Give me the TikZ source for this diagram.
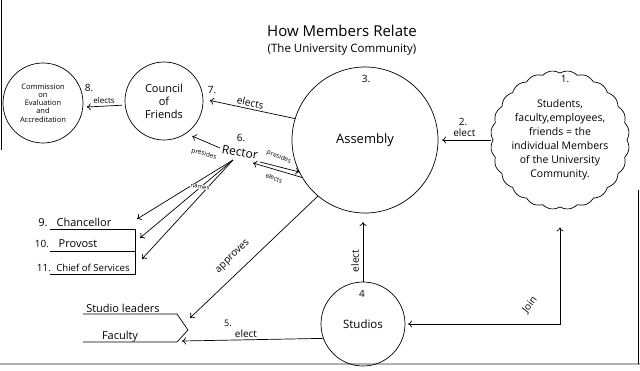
\documentclass[tikz,border=0pt]{standalone}
\usepackage{fontspec}
\setmainfont{Open Sans}
\usetikzlibrary{arrows.meta,calc}
\begin{document}
\begin{tikzpicture}[x=1pt,y=-1pt, line width=0.7pt,
  arr/.style={-{To[length=4pt,width=7pt]}},
  ring/.style={circle,draw,inner sep=0pt,outer sep=0pt,align=center},
  lbl/.style={inner sep=0pt,font=\fontsize{10}{12}\selectfont},
  small/.style={inner sep=0pt,font=\fontsize{6.5}{7}\selectfont},
  item/.style={inner sep=0pt,anchor=base,font=\fontsize{11}{12}\selectfont}]
\useasboundingbox (0,0) rectangle (640,370);
% page edges
\draw[line width=1pt] (1,0) -- (1,150);
\draw[gray!60,line width=1.6pt] (0,364) -- (640,364);
\draw[line width=0.6pt] (638,190) -- (638,364);
% title
\node[inner sep=0pt,font=\fontsize{15}{16}\selectfont] (title) at (342,31) {How Members Relate};
\node[inner sep=0pt,font=\fontsize{11.5}{13}\selectfont] (subtitle) at (342,50) {(The University Community)};
% circles
\node[ring,minimum size=80pt,font=\fontsize{7.5}{8.2}\selectfont] (com) at (43,103)
  {Commission\\on\\Evaluation\\and\\Accreditation};
\node[ring,minimum size=78pt,font=\fontsize{11}{13}\selectfont] (cof) at (164,101) {Council\\of\\Friends};
\node[ring,minimum size=146pt,font=\fontsize{13}{15}\selectfont] (asm) at (365,140) {\raisebox{-6pt}{Assembly}};
\node[ring,minimum size=84pt,font=\fontsize{11.5}{13}\selectfont] (stud) at (363,324) {\raisebox{-4pt}{Studios}};
\node[circle,inner sep=0pt,minimum size=138pt,align=center,font=\fontsize{10.5}{14}\selectfont] (stu) at (560,140)
  {\\[-6pt]Students,\\faculty,employees,\\friends = the\\individual Members\\of the University\\Community.};
\draw[shift={(stu.center)}] plot[domain=0:360,samples=361,smooth] (\x:{67+2.4*abs(sin(12*\x))}) -- cycle;
% numbers
\node[lbl] (n3) at (366,79) {3.};
\node[lbl] (n1) at (565,79) {1.};
\node[lbl] (n4) at (362,294) {4};
\node[lbl] (n2) at (463,122) {2.};
\node[lbl] (n7) at (212,90) {7.};
\node[lbl] (n8) at (89,88) {8.};
\node[lbl] (n6) at (241,138) {6.};
\node[lbl,font=\fontsize{9}{10}\selectfont] (n5) at (228,323) {5.};
% rector
\node[inner sep=1pt,rotate=-10,font=\fontsize{12}{13}\selectfont] (rec) at (240,152) {Rector};
% connectors
\draw[arr,shorten >=4pt] (stu.180) -- (asm.0) node[lbl,midway,above=3pt] (l2) {elect};
\draw[arr,shorten >=7pt] (asm.163) -- (cof.3) node[lbl,midway,above=2pt,sloped] (l7) {elects};
\draw[arr,shorten >=4pt,shorten <=3pt] (cof.186) -- (com.354) node[lbl,midway,above=2pt,font=\fontsize{8}{9}\selectfont] (l8) {elects};
\coordinate (rW) at (220,148);
\draw[arr,shorten >=7pt] (rW) -- (cof.-56);
\node[small,rotate=-16] (lp1) at (204,154) {presides};
\coordinate (rP) at (260,162);
\draw[arr] (rP) -- (asm.206);
\node[small,rotate=-22] (lp2) at (279,157) {presides};
\coordinate (rE) at (253,163);
\draw[arr] (asm.211) -- (rE);
\node[small,rotate=-22] (le) at (274,178) {elects};
% names
\coordinate (rN) at (233,160);
\coordinate (t1) at (137,219);
\coordinate (t2) at (140,238);
\coordinate (t3) at (142,259);
\draw[arr] (rN) -- (t1);
\draw[arr] (rN) -- (t2);
\draw[arr] (rN) -- (t3);
\node[small,font=\fontsize{6}{7}\selectfont,rotate=-8,fill=white,inner sep=0.5pt] (lnm) at (200,187) {names};
% list
\node[item] (i9) at (43,226) {9.};
\node[item] (ch) at (84,226) {Chancellor};
\node[item,font=\fontsize{10}{12}\selectfont] (i10) at (42,247) {10.};
\node[item] (pr) at (78,247) {Provost};
\node[item,font=\fontsize{10}{12}\selectfont] (i11) at (44,271) {11.};
\node[item,font=\fontsize{9.6}{12}\selectfont] (cs) at (93,271) {Chief of Services};
\coordinate (u1) at (50,229); \coordinate (u1e) at (135,229);
\coordinate (u2) at (50,251); \coordinate (u2e) at (135,251);
\coordinate (u3) at (50,274); \coordinate (u3e) at (135,274);
\draw (u1) -- (u1e) -- (u3e |- 0,275);
\draw (u2) -- (u2e);
\draw (u3) -- (u3e);
% approves
\coordinate (apT) at (190,318);
\draw[arr] (asm.230) -- (apT);
\node[lbl,rotate=44] (lap) at (233,257) {approves};
% studio leaders / faculty
\coordinate (p1) at (83,314); \coordinate (p2) at (177,314); \coordinate (p3) at (188,330);
\coordinate (p4) at (177,342); \coordinate (p5) at (83,342);
\draw (p1) -- (p2) -- (p3) -- (p4) -- (p5);
\node[item] (sl) at (123,312) {Studio leaders};
\node[item] (fa) at (120,339) {Faculty};
% 5 elect
\coordinate (fT) at (182,341);
\draw[arr] (stud.200) -- (fT);
\node[lbl] (l5) at (246,334) {elect};
% elect vertical
\draw[arr,shorten >=9pt] (stud.north) -- (stud.north |- asm.south);
\node[lbl,rotate=90] (l4) at (355,261) {elect};
% join
\draw[{To[length=4pt,width=7pt]}-{To[length=4pt,width=7pt]},shorten <=3pt,shorten >=18pt] (stud.east) -| (stu.south);
\node[lbl,rotate=52] (lj) at (530,305) {Join};
\end{tikzpicture}
\end{document}
